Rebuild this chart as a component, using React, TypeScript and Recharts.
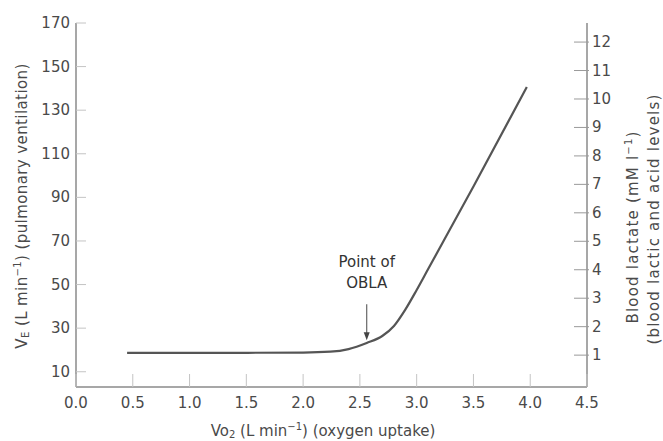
import React from 'react';
import { LineChart, Line, XAxis, YAxis, ReferenceLine } from 'recharts';

document.body.style.margin = '0';

// oxygen uptake (L/min) and pulmonary ventilation (L/min)
const vo2 = [0.45, 1.0, 1.5, 2.0, 2.24, 2.4, 2.56, 2.7, 2.8, 2.9, 3.0, 3.1, 3.5, 3.97];
const ve = [18.7, 18.7, 18.7, 18.8, 19.2, 20.4, 23.2, 26.5, 31, 38.5, 47.5, 57, 95, 140.6];

const xTicks = [0, 0.5, 1.0, 1.5, 2.0, 2.5, 3.0, 3.5, 4.0, 4.5];
const veTicks = [10, 30, 50, 70, 90, 110, 130, 150, 170];
const lactateTicks = [1, 2, 3, 4, 5, 6, 7, 8, 9, 10, 11, 12];

const obla = { vo2: 2.56, from: 41, to: 24.5 };

const data = vo2.map((v, i) => ({ vo2: v, ve: ve[i] }));

const FONT = '"DejaVu Sans", sans-serif';
const TEXT = '#4a4a4a';
const AXIS = '#8a8a8a';

const LeftTick = (p: any) => (
  <g>
    <line x1={p.x} y1={p.y} x2={p.x + 10} y2={p.y} stroke="#c4c4c4" strokeWidth={1} />
    <text x={p.x - 6} y={p.y} textAnchor="end" dominantBaseline="central" fontSize={15} fontFamily={FONT} fill={TEXT}>
      {p.payload.value}
    </text>
  </g>
);

const RightTick = (p: any) => (
  <g>
    <line x1={p.x - 13} y1={p.y} x2={p.x + 2} y2={p.y} stroke="#9a9a9a" strokeWidth={1} />
    <text x={p.x + 5} y={p.y} textAnchor="start" dominantBaseline="central" fontSize={15} fontFamily={FONT} fill={TEXT}>
      {p.payload.value}
    </text>
  </g>
);

const BottomTick = (p: any) => (
  <g>
    <line x1={p.x} y1={p.y} x2={p.x} y2={p.y - 13} stroke="#c4c4c4" strokeWidth={1} />
    <text x={p.x} y={p.y + 16} textAnchor="middle" dominantBaseline="central" fontSize={15} fontFamily={FONT} fill={TEXT}>
      {Number(p.payload.value).toFixed(1)}
    </text>
  </g>
);

const XTitle = () => (
  <text x={323} y={431} textAnchor="middle" dominantBaseline="central" fontSize={15} fontFamily={FONT} fill={TEXT}>
    <tspan>Vo</tspan>
    <tspan dy={3} fontSize={10}>2</tspan>
    <tspan dy={-3}> (L min</tspan>
    <tspan dy={-5} fontSize={10}>−1</tspan>
    <tspan dy={5}>) (oxygen uptake)</tspan>
  </text>
);

const LeftTitle = () => (
  <text
    transform="translate(22,206) rotate(-90)"
    textAnchor="middle"
    dominantBaseline="central"
    fontSize={15}
    letterSpacing={0.4}
    fontFamily={FONT}
    fill={TEXT}
  >
    <tspan>V</tspan>
    <tspan dy={3} fontSize={10}>E</tspan>
    <tspan dy={-3}> (L min</tspan>
    <tspan dy={-5} fontSize={10}>−1</tspan>
    <tspan dy={5}>) (pulmonary ventilation)</tspan>
  </text>
);

const RightTitle = () => (
  <g fontSize={15} fontFamily={FONT} fill={TEXT} letterSpacing={1.2}>
    <text transform="translate(633,227) rotate(-90)" textAnchor="middle" dominantBaseline="central">
      <tspan>Blood lactate (mM l</tspan>
      <tspan dy={-5} fontSize={10}>−1</tspan>
      <tspan dy={5}>)</tspan>
    </text>
    <text transform="translate(654,219) rotate(-90)" textAnchor="middle" dominantBaseline="central">
      (blood lactic and acid levels)
    </text>
  </g>
);

const Arrow = (p: any) => (
  <g>
    <text x={p.x1} y={p.y1 - 37} textAnchor="middle" fontSize={15} fontFamily={FONT} fill="#333">
      Point of
    </text>
    <text x={p.x1} y={p.y1 - 16} textAnchor="middle" fontSize={15} fontFamily={FONT} fill="#333">
      OBLA
    </text>
    <line x1={p.x1} y1={p.y1} x2={p.x2} y2={p.y2 - 6} stroke="#666" strokeWidth={1.2} />
    <path d={`M${p.x2 - 3},${p.y2 - 8} L${p.x2 + 3},${p.y2 - 8} L${p.x2},${p.y2} Z`} fill="#444" />
  </g>
);

export default function App() {
  return (
    <div style={{ width: 663, height: 441, background: '#fff' }}>
      <LineChart width={663} height={441} data={data} margin={{ top: 23, right: 0, bottom: 0, left: 0 }}>
        <XAxis
          dataKey="vo2"
          type="number"
          domain={[0, 4.5]}
          ticks={xTicks}
          height={54}
          tickSize={0}
          tickMargin={0}
          tickLine={false}
          tick={<BottomTick />}
          axisLine={{ stroke: AXIS, strokeWidth: 1.5 }}
          label={{ content: () => <XTitle /> }}
        />
        <YAxis
          yAxisId="left"
          orientation="left"
          domain={[3, 170]}
          ticks={veTicks}
          width={76}
          tickSize={0}
          tickMargin={0}
          tickLine={false}
          tick={<LeftTick />}
          axisLine={{ stroke: AXIS, strokeWidth: 1.5 }}
          allowDataOverflow
          label={{ content: () => <LeftTitle /> }}
        />
        <YAxis
          yAxisId="right"
          orientation="right"
          domain={[-0.12, 12.67]}
          ticks={lactateTicks}
          width={76}
          tickSize={0}
          tickMargin={0}
          tickLine={false}
          tick={<RightTick />}
          axisLine={{ stroke: AXIS, strokeWidth: 1.5 }}
          allowDataOverflow
          label={{ content: () => <RightTitle /> }}
        />
        <Line
          yAxisId="left"
          type="monotone"
          dataKey="ve"
          stroke="#555"
          strokeWidth={2.2}
          dot={false}
          isAnimationActive={false}
        />
        <ReferenceLine
          yAxisId="left"
          segment={[
            { x: obla.vo2, y: obla.from },
            { x: obla.vo2, y: obla.to },
          ]}
          shape={<Arrow />}
        />
      </LineChart>
    </div>
  );
}
